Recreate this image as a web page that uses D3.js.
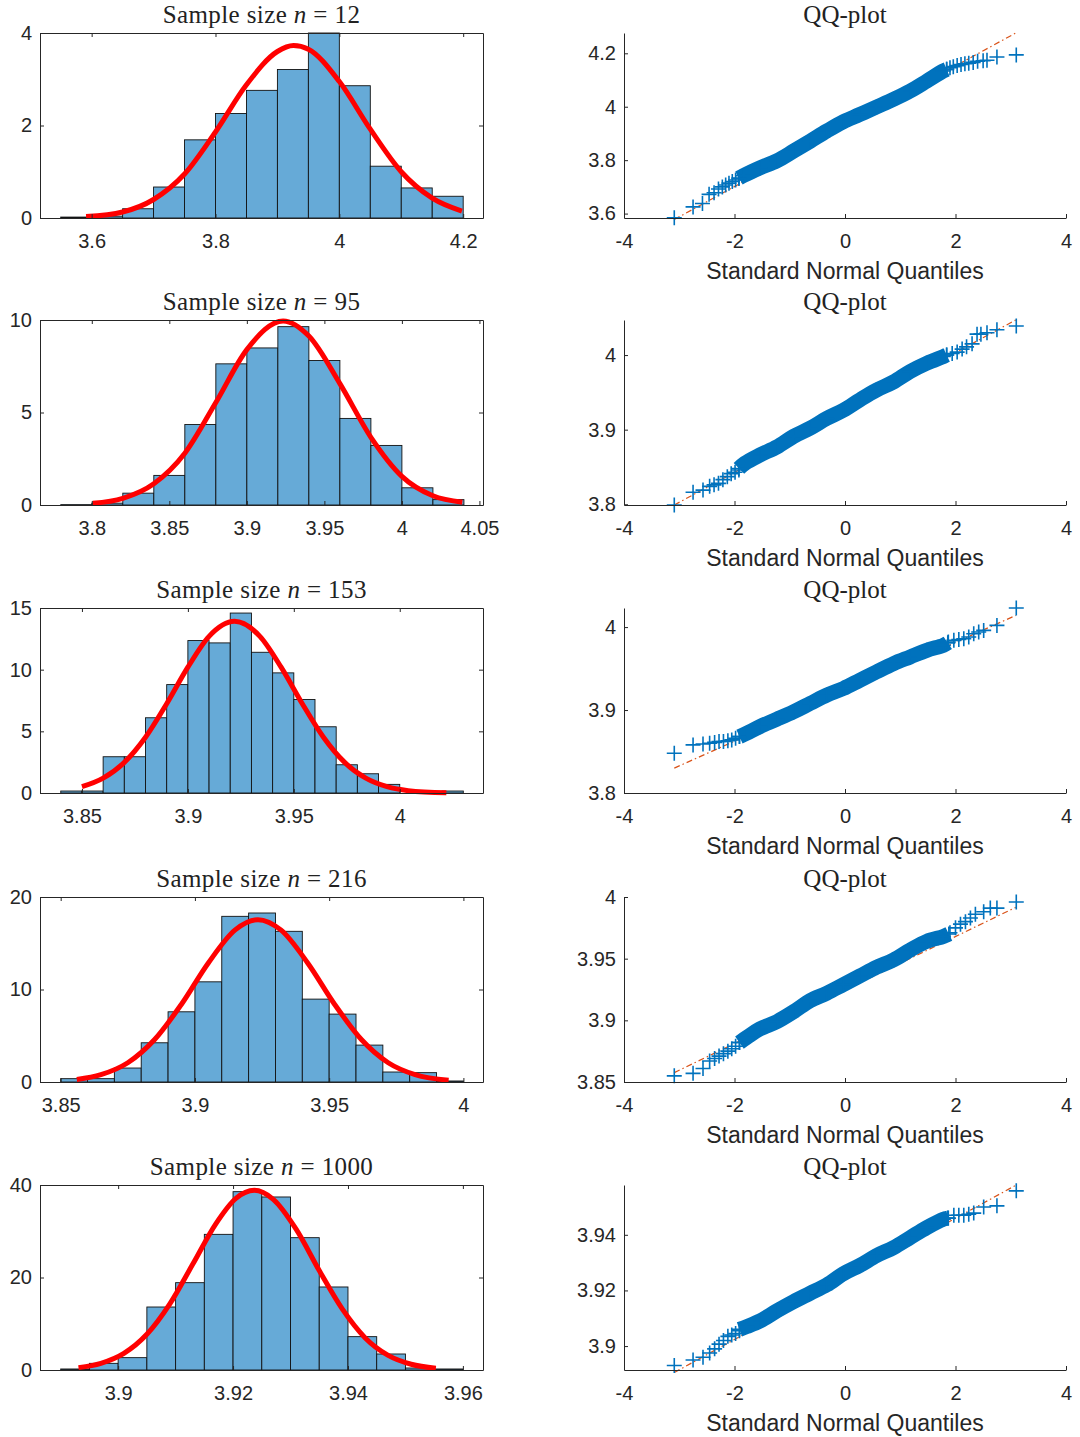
<!DOCTYPE html>
<html>
<head>
<meta charset="utf-8">
<script src="https://cdn.jsdelivr.net/npm/d3@7"></script>
<style>
  body { margin: 0; background: #fff; }
  svg { display: block; }
  .axis text { font-family: "Liberation Sans", Arial, sans-serif; font-size: 20px; fill: #262626; }
  .axis path, .axis line { stroke: #262626; stroke-width: 1; }
  .title { font-family: "Liberation Serif", "Times New Roman", serif; font-size: 25px; fill: #222; }
  .xlabel { font-family: "Liberation Sans", Arial, sans-serif; font-size: 23px; fill: #262626; }
</style>
</head>
<body>
<svg id="chart" width="1080" height="1437"></svg>
<script>
// sample sizes shown in the titles
const sampleSizes = [12, 95, 153, 216, 1000]

// histogram bin edges and bar heights (probability density)
const edges12 = [3.55, 3.60, 3.65, 3.70, 3.75, 3.80, 3.85, 3.90, 3.95, 4.00, 4.05, 4.10, 4.15, 4.20]
const dens12 = [0.02, 0.04, 0.2, 0.67, 1.69, 2.26, 2.76, 3.21, 4.0, 2.86, 1.12, 0.65, 0.47]
const edges95 = [3.78, 3.80, 3.82, 3.84, 3.86, 3.88, 3.90, 3.92, 3.94, 3.96, 3.98, 4.00, 4.02, 4.04]
const dens95 = [0.02, 0.1, 0.64, 1.6, 4.35, 7.63, 8.49, 9.64, 7.81, 4.68, 3.22, 0.93, 0.29]
const edges153 = [3.84, 3.85, 3.86, 3.87, 3.88, 3.89, 3.90, 3.91, 3.92, 3.93, 3.94, 3.95, 3.96, 3.97, 3.98, 3.99, 4.00, 4.01, 4.02, 4.03]
const dens153 = [0.16, 0.16, 2.94, 2.94, 6.10, 8.79, 12.36, 12.17, 14.59, 11.41, 9.74, 7.58, 5.37, 2.29, 1.56, 0.70, 0, 0, 0.16]
const edges216 = [3.85, 3.86, 3.87, 3.88, 3.89, 3.90, 3.91, 3.92, 3.93, 3.94, 3.95, 3.96, 3.97, 3.98, 3.99, 4.00]
const dens216 = [0.36, 0.36, 1.51, 4.24, 7.59, 10.83, 17.91, 18.27, 16.29, 8.96, 7.34, 3.99, 1.08, 1.01, 0.11]
const edges1000 = [3.890, 3.895, 3.900, 3.905, 3.910, 3.915, 3.920, 3.925, 3.930, 3.935, 3.940, 3.945, 3.950, 3.955, 3.960]
const dens1000 = [0.22, 1.44, 2.67, 13.62, 18.88, 29.33, 38.56, 37.41, 28.61, 17.95, 7.21, 3.46, 0.43, 0.22]

// fitted normal curve
const fit12 = [[3.591, 0.03], [3.65, 0.13], [3.70, 0.40], [3.75, 0.95], [3.80, 1.86], [3.85, 2.88], [3.90, 3.60], [3.926, 3.73], [3.95, 3.65], [4.00, 2.95], [4.05, 1.92], [4.10, 1.0], [4.15, 0.43], [4.198, 0.15]]
const fit95 = [[3.8006, 0.09], [3.82, 0.36], [3.84, 1.15], [3.86, 2.8], [3.88, 5.54], [3.90, 8.4], [3.9234, 9.95], [3.94, 9.13], [3.96, 6.56], [3.98, 3.66], [4.00, 1.55], [4.02, 0.5], [4.039, 0.15]]
const fit153 = [[3.85, 0.51], [3.86, 1.2], [3.87, 2.48], [3.88, 4.52], [3.89, 7.24], [3.90, 10.2], [3.91, 12.7], [3.922, 13.92], [3.934, 12.7], [3.944, 10.2], [3.954, 7.24], [3.964, 4.52], [3.974, 2.48], [3.984, 1.2], [3.994, 0.51], [4.004, 0.19], [4.022, 0.02]]
const fit216 = [[3.856, 0.28], [3.865, 0.79], [3.875, 2.08], [3.885, 4.59], [3.895, 8.41], [3.905, 12.87], [3.915, 16.44], [3.9235, 17.55], [3.932, 16.44], [3.942, 12.87], [3.952, 8.41], [3.962, 4.59], [3.972, 2.08], [3.982, 0.79], [3.9945, 0.18]]
const fit1000 = [[3.8931, 0.51], [3.897, 1.44], [3.901, 3.59], [3.905, 7.72], [3.909, 14.3], [3.913, 22.9], [3.917, 31.6], [3.9205, 37.1], [3.9237, 38.85], [3.927, 36.9], [3.931, 30.4], [3.935, 21.5], [3.939, 13.2], [3.943, 6.94], [3.947, 3.16], [3.951, 1.24], [3.9553, 0.38]]

// histogram axis limits and ticks
const histXLim = [[3.5166, 4.232], [3.7666, 4.0523], [3.8302, 4.0393], [3.8423, 4.0073], [3.8864, 3.9635]]
const histYLim = [[0, 4], [0, 10], [0, 15], [0, 20], [0, 40]]
const histXTicks = [[3.6, 3.8, 4, 4.2], [3.8, 3.85, 3.9, 3.95, 4, 4.05], [3.85, 3.9, 3.95, 4], [3.85, 3.9, 3.95, 4], [3.9, 3.92, 3.94, 3.96]]
const histYTicks = [[0, 2, 4], [0, 5, 10], [0, 5, 10, 15], [0, 10, 20], [0, 20, 40]]

// QQ plots: single visible markers in the tails, dense middle band, reference line
const qqTail12 = [[-3.09, 3.584], [-2.75, 3.625], [-2.58, 3.638], [-2.46, 3.672], [-2.37, 3.678], [-2.29, 3.692], [-2.22, 3.700], [-2.16, 3.707], [-2.10, 3.714], [-2.04, 3.720], [-1.98, 3.726], [-1.92, 3.731],
    [1.84, 4.140], [1.90, 4.146], [1.96, 4.150], [2.03, 4.154], [2.10, 4.158], [2.17, 4.161], [2.24, 4.163], [2.32, 4.166], [2.40, 4.170], [2.50, 4.172], [2.57, 4.174], [2.75, 4.186], [3.10, 4.194]]
const qqBand12 = [[-1.92, 3.733], [-1.84, 3.742], [-1.54, 3.771], [-1.23, 3.798], [-0.93, 3.834], [-0.63, 3.871], [-0.33, 3.909], [-0.03, 3.944], [0.27, 3.971], [0.57, 3.999], [0.88, 4.028], [1.18, 4.059], [1.48, 4.096], [1.78, 4.134], [1.84, 4.140]]
const qqRef12 = [[-3.09, 3.578], [3.09, 4.276]]

const qqTail95 = [[-3.09, 3.799], [-2.75, 3.816], [-2.57, 3.819], [-2.45, 3.824], [-2.37, 3.826], [-2.29, 3.828], [-2.21, 3.833], [-2.13, 3.837], [-2.06, 3.841], [-1.99, 3.843], [-1.92, 3.846],
    [1.84, 4.0], [1.94, 4.002], [2.03, 4.004], [2.12, 4.008], [2.20, 4.011], [2.30, 4.015], [2.39, 4.028], [2.46, 4.028], [2.57, 4.030], [2.75, 4.034], [3.10, 4.039]]
const qqBand95 = [[-1.92, 3.848], [-1.81, 3.855], [-1.54, 3.866], [-1.23, 3.877], [-0.93, 3.891], [-0.63, 3.902], [-0.33, 3.915], [-0.03, 3.926], [0.27, 3.940], [0.57, 3.953], [0.88, 3.964], [1.18, 3.978], [1.48, 3.989], [1.78, 3.998], [1.84, 4.0]]
const qqRef95 = [[-3.09, 3.799], [3.09, 4.047]]

const qqTail153 = [[-3.09, 3.848], [-2.75, 3.858], [-2.57, 3.859], [-2.45, 3.860], [-2.36, 3.861], [-2.28, 3.862], [-2.20, 3.862], [-2.12, 3.863], [-2.05, 3.864], [-1.98, 3.866], [-1.91, 3.868],
    [1.87, 3.982], [1.97, 3.984], [2.06, 3.985], [2.15, 3.986], [2.24, 3.988], [2.33, 3.992], [2.42, 3.994], [2.51, 3.996], [2.75, 4.002], [3.10, 4.023]]
const qqBand153 = [[-1.91, 3.868], [-1.78, 3.872], [-1.54, 3.880], [-1.23, 3.889], [-0.93, 3.898], [-0.63, 3.908], [-0.33, 3.918], [-0.03, 3.926], [0.27, 3.936], [0.57, 3.946], [0.88, 3.956], [1.18, 3.964], [1.48, 3.972], [1.78, 3.978], [1.86, 3.981]]
const qqRef153 = [[-3.09, 3.830], [3.09, 4.014]]

const qqTail216 = [[-3.09, 3.855], [-2.75, 3.857], [-2.57, 3.861], [-2.45, 3.867], [-2.36, 3.869], [-2.28, 3.871], [-2.20, 3.873], [-2.12, 3.875], [-2.05, 3.877], [-1.98, 3.879], [-1.91, 3.882],
    [1.90, 3.971], [2.00, 3.975], [2.09, 3.978], [2.18, 3.980], [2.27, 3.983], [2.36, 3.986], [2.51, 3.988], [2.63, 3.991], [2.75, 3.991], [3.10, 3.996]]
const qqBand216 = [[-1.91, 3.882], [-1.78, 3.886], [-1.54, 3.893], [-1.23, 3.899], [-0.93, 3.907], [-0.63, 3.916], [-0.33, 3.922], [-0.03, 3.929], [0.27, 3.936], [0.57, 3.943], [0.88, 3.949], [1.18, 3.957], [1.48, 3.964], [1.78, 3.968], [1.88, 3.970]]
const qqRef216 = [[-3.09, 3.8576], [3.09, 3.9916]]

const qqTail1000 = [[-3.09, 3.893], [-2.75, 3.895], [-2.57, 3.896], [-2.45, 3.8975], [-2.36, 3.899], [-2.28, 3.9007], [-2.20, 3.902], [-2.12, 3.9035], [-2.05, 3.904], [-1.98, 3.9045], [-1.91, 3.9055],
    [1.87, 3.946], [1.97, 3.947], [2.06, 3.947], [2.15, 3.947], [2.24, 3.9474], [2.33, 3.9478], [2.51, 3.950], [2.75, 3.9504], [3.10, 3.9558]]
const qqBand1000 = [[-1.91, 3.906], [-1.78, 3.907], [-1.54, 3.909], [-1.23, 3.9127], [-0.93, 3.916], [-0.63, 3.919], [-0.33, 3.922], [-0.03, 3.926], [0.27, 3.929], [0.57, 3.9325], [0.88, 3.9354], [1.18, 3.939], [1.48, 3.9426], [1.78, 3.9456], [1.86, 3.946]]
const qqRef1000 = [[-3.09, 3.8905], [3.09, 3.9578]]

const qqXTicks = [-4, -2, 0, 2, 4]
const qqYLim = [[3.5835, 4.276], [3.799, 4.047], [3.8, 4.023], [3.85, 4.0], [3.8914, 3.9579]]
const qqYTicks = [[3.6, 3.8, 4, 4.2], [3.8, 3.9, 4], [3.8, 3.9, 4], [3.85, 3.9, 3.95, 4], [3.9, 3.92, 3.94]]

let panels = [
    { edges: edges12, dens: dens12, fit: fit12, tail: qqTail12, band: qqBand12, ref: qqRef12 },
    { edges: edges95, dens: dens95, fit: fit95, tail: qqTail95, band: qqBand95, ref: qqRef95 },
    { edges: edges153, dens: dens153, fit: fit153, tail: qqTail153, band: qqBand153, ref: qqRef153 },
    { edges: edges216, dens: dens216, fit: fit216, tail: qqTail216, band: qqBand216, ref: qqRef216 },
    { edges: edges1000, dens: dens1000, fit: fit1000, tail: qqTail1000, band: qqBand1000, ref: qqRef1000 }
]

let svg = d3.select('#chart')

let rowTops = [33, 320, 608, 897, 1185]
let axH = 185
let hist = { left: 40, right: 483 }
let qq = { left: 624, right: 1066 }
let tickLen = 4
let fmt = d => String(d)
let blue = '#0072BD'
let crossPath = 'M-7.5,0H7.5M0,-7.5V7.5'

panels.forEach((p, i) => {
    let top = rowTops[i]
    let bottom = top + axH

    // ---------- histogram ----------
    let xScale = d3.scaleLinear().domain(histXLim[i]).range([hist.left, hist.right])
    let yScale = d3.scaleLinear().domain(histYLim[i]).range([bottom, top])

    let bins = p.dens.map((d, k) => ({ x0: p.edges[k], x1: p.edges[k + 1], v: d }))

    svg.append('g')
        .selectAll('rect')
        .data(bins)
        .join('rect')
        .attr('x', d => xScale(d.x0))
        .attr('y', d => yScale(d.v))
        .attr('width', d => xScale(d.x1) - xScale(d.x0))
        .attr('height', d => yScale(0) - yScale(d.v))
        .attr('fill', '#66AAD7')
        .attr('stroke', '#111')
        .attr('stroke-width', 0.9)

    let line = d3.line()
        .x(d => xScale(d[0]))
        .y(d => yScale(d[1]))
        .curve(d3.curveMonotoneX)

    svg.append('path')
        .datum(p.fit)
        .attr('d', line)
        .attr('fill', 'none')
        .attr('stroke', '#FF0000')
        .attr('stroke-width', 5)
        .attr('stroke-linejoin', 'round')

    // box with inward ticks on all four sides
    svg.append('g').attr('class', 'axis')
        .attr('transform', `translate(0,${bottom})`)
        .call(d3.axisBottom(xScale).tickValues(histXTicks[i]).tickFormat(fmt)
            .tickSizeInner(-tickLen).tickSizeOuter(0).tickPadding(16))
    svg.append('g').attr('class', 'axis')
        .attr('transform', `translate(0,${top})`)
        .call(d3.axisTop(xScale).tickValues(histXTicks[i]).tickFormat('')
            .tickSizeInner(-tickLen).tickSizeOuter(0))
    svg.append('g').attr('class', 'axis')
        .attr('transform', `translate(${hist.left},0)`)
        .call(d3.axisLeft(yScale).tickValues(histYTicks[i]).tickFormat(fmt)
            .tickSizeInner(-tickLen).tickSizeOuter(0).tickPadding(8))
    svg.append('g').attr('class', 'axis')
        .attr('transform', `translate(${hist.right},0)`)
        .call(d3.axisRight(yScale).tickValues(histYTicks[i]).tickFormat('')
            .tickSizeInner(-tickLen).tickSizeOuter(0))

    let title = svg.append('text')
        .attr('class', 'title')
        .attr('x', (hist.left + hist.right) / 2)
        .attr('y', top - 10.5)
        .attr('text-anchor', 'middle')
        .style('letter-spacing', '0.4px')
        .attr('xml:space', 'preserve')
    title.append('tspan').text('Sample size ')
    title.append('tspan').attr('font-style', 'italic').text('n')
    title.append('tspan').text(' = ' + sampleSizes[i])

    // ---------- QQ plot ----------
    let qx = d3.scaleLinear().domain([-4, 4]).range([qq.left, qq.right])
    let qy = d3.scaleLinear().domain(qqYLim[i]).range([bottom, top])

    svg.append('line')
        .attr('x1', qx(p.ref[0][0])).attr('y1', qy(p.ref[0][1]))
        .attr('x2', qx(p.ref[1][0])).attr('y2', qy(p.ref[1][1]))
        .attr('stroke', '#D95319')
        .attr('stroke-width', 1.2)
        .attr('stroke-dasharray', '6,3,1.5,3')

    let bandLine = d3.line()
        .x(d => qx(d[0]))
        .y(d => qy(d[1]))
        .curve(d3.curveCatmullRom.alpha(0.5))

    svg.append('path')
        .datum(p.band)
        .attr('d', bandLine)
        .attr('fill', 'none')
        .attr('stroke', blue)
        .attr('stroke-width', 15)

    svg.append('g')
        .selectAll('path')
        .data(p.band.concat(p.tail))
        .join('path')
        .attr('d', crossPath)
        .attr('transform', d => `translate(${qx(d[0])},${qy(d[1])})`)
        .attr('fill', 'none')
        .attr('stroke', blue)
        .attr('stroke-width', 1.6)

    svg.append('g').attr('class', 'axis')
        .attr('transform', `translate(0,${bottom})`)
        .call(d3.axisBottom(qx).tickValues(qqXTicks).tickFormat(fmt)
            .tickSizeInner(-tickLen).tickSizeOuter(0).tickPadding(16))
    svg.append('g').attr('class', 'axis')
        .attr('transform', `translate(${qq.left},0)`)
        .call(d3.axisLeft(qy).tickValues(qqYTicks[i]).tickFormat(fmt)
            .tickSizeInner(-tickLen).tickSizeOuter(0).tickPadding(8))

    svg.append('text')
        .attr('class', 'title')
        .attr('x', (qq.left + qq.right) / 2)
        .attr('y', top - 10.5)
        .attr('text-anchor', 'middle')
        .text('QQ-plot')

    svg.append('text')
        .attr('class', 'xlabel')
        .attr('x', (qq.left + qq.right) / 2)
        .attr('y', bottom + 61)
        .attr('text-anchor', 'middle')
        .text('Standard Normal Quantiles')
})
</script>
</body>
</html>
